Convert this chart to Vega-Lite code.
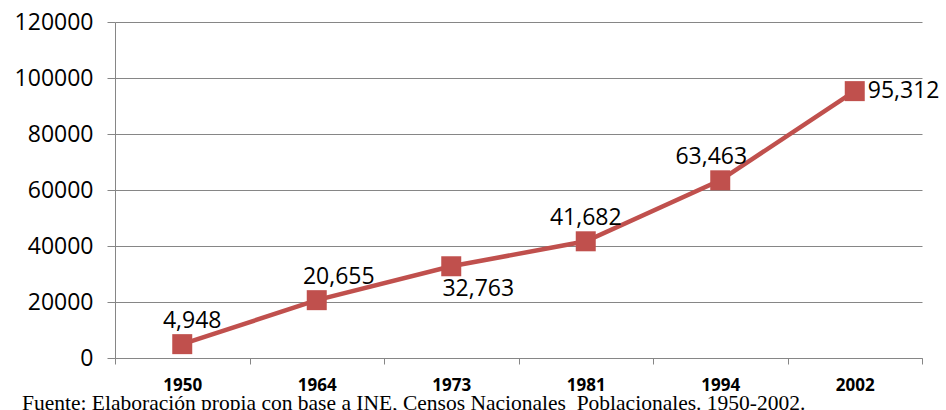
{
  "$schema": "https://vega.github.io/schema/vega-lite/v6.json",
  "autosize": {"type": "none"},
  "padding": {"left": 115, "top": 22, "right": 24, "bottom": 52},
  "width": 807,
  "height": 336,
  "background": "white",
  "config": {"view": {"stroke": null}},
  "title": {
    "text": "Fuente: Elaboración propia con base a INE, Censos Nacionales\u00a0 Poblacionales. 1950-2002.",
    "orient": "bottom",
    "anchor": "start",
    "frame": "group",
    "font": "Liberation Serif",
    "fontSize": 21.5,
    "fontWeight": "normal",
    "color": "#000000",
    "baseline": "alphabetic",
    "dx": -93,
    "offset": 17
  },
  "data": {
    "values": [
      {"year": "1950", "pop": 4948},
      {"year": "1964", "pop": 20655},
      {"year": "1973", "pop": 32763},
      {"year": "1981", "pop": 41682},
      {"year": "1994", "pop": 63463},
      {"year": "2002", "pop": 95312}
    ]
  },
  "encoding": {
    "x": {
      "field": "year",
      "type": "ordinal",
      "bandPosition": 0.5,
      "scale": {"type": "band", "paddingInner": 0, "paddingOuter": 0},
      "axis": {
        "title": null,
        "labelAngle": 0,
        "tickBand": "extent",
        "tickSize": 6,
        "tickColor": "#868686",
        "domainColor": "#868686",
        "labelFont": "Open Sans",
        "labelFontWeight": "bold",
        "labelFontSize": 17,
        "labelColor": "#000000",
        "labelPadding": 13,
        "grid": false
      }
    },
    "y": {
      "field": "pop",
      "type": "quantitative",
      "scale": {"domain": [0, 120000], "nice": false},
      "axis": {
        "title": null,
        "values": [0, 20000, 40000, 60000, 80000, 100000, 120000],
        "format": "d",
        "tickSize": 8,
        "tickColor": "#868686",
        "domainColor": "#868686",
        "gridColor": "#868686",
        "grid": true,
        "labelFont": "Open Sans",
        "labelFontSize": 23,
        "labelColor": "#000000",
        "labelPadding": 14
      }
    }
  },
  "layer": [
    {"mark": {"type": "line", "color": "#C0504D", "strokeWidth": 4.5}},
    {"mark": {"type": "point", "shape": "square", "filled": true, "size": 400, "color": "#C0504D", "opacity": 1}},
    {
      "transform": [{"filter": "datum.year == '1950'"}],
      "mark": {"type": "text", "font": "Open Sans", "fontSize": 23, "color": "#000000", "baseline": "middle", "align": "center", "dx": 10, "dy": -23},
      "encoding": {"text": {"field": "pop", "type": "quantitative", "format": ","}}
    },
    {
      "transform": [{"filter": "datum.year == '1964'"}],
      "mark": {"type": "text", "font": "Open Sans", "fontSize": 23, "color": "#000000", "baseline": "middle", "align": "center", "dx": 22, "dy": -23},
      "encoding": {"text": {"field": "pop", "type": "quantitative", "format": ","}}
    },
    {
      "transform": [{"filter": "datum.year == '1973'"}],
      "mark": {"type": "text", "font": "Open Sans", "fontSize": 23, "color": "#000000", "baseline": "middle", "align": "center", "dx": 27, "dy": 23},
      "encoding": {"text": {"field": "pop", "type": "quantitative", "format": ","}}
    },
    {
      "transform": [{"filter": "datum.year == '1981'"}],
      "mark": {"type": "text", "font": "Open Sans", "fontSize": 23, "color": "#000000", "baseline": "middle", "align": "center", "dx": 0, "dy": -23},
      "encoding": {"text": {"field": "pop", "type": "quantitative", "format": ","}}
    },
    {
      "transform": [{"filter": "datum.year == '1994'"}],
      "mark": {"type": "text", "font": "Open Sans", "fontSize": 23, "color": "#000000", "baseline": "middle", "align": "center", "dx": -9, "dy": -23},
      "encoding": {"text": {"field": "pop", "type": "quantitative", "format": ","}}
    },
    {
      "transform": [{"filter": "datum.year == '2002'"}],
      "mark": {"type": "text", "font": "Open Sans", "fontSize": 23, "color": "#000000", "baseline": "middle", "align": "left", "dx": 13, "dy": 0},
      "encoding": {"text": {"field": "pop", "type": "quantitative", "format": ","}}
    }
  ]
}
